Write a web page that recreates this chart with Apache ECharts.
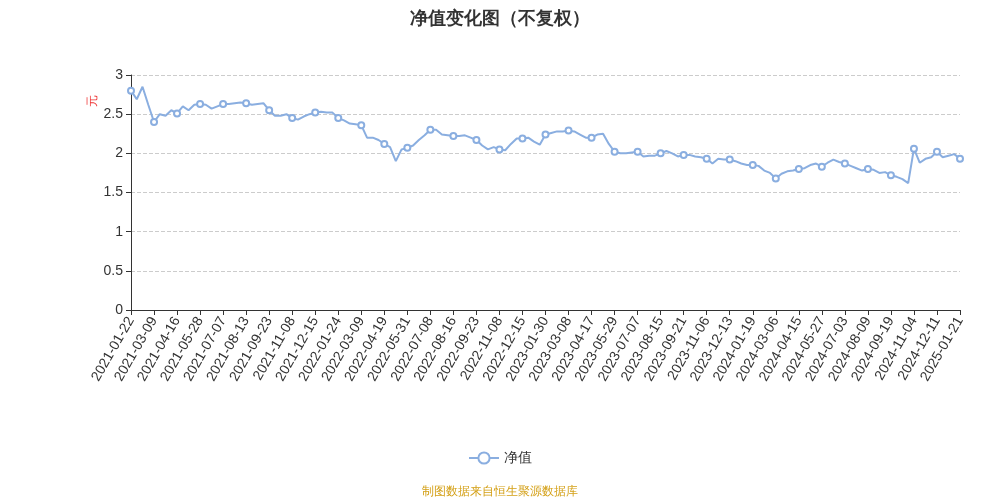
<!DOCTYPE html>
<html><head><meta charset="utf-8">
<script src="https://cdn.jsdelivr.net/npm/echarts@6/dist/echarts.min.js"></script>
<style>html,body{margin:0;padding:0;}#c{width:1000px;height:500px;}</style>
</head><body><div id="c"></div>
<script>
const labelDates = ['2021-01-22','2021-03-09','2021-04-16','2021-05-28','2021-07-07','2021-08-13','2021-09-23','2021-11-08','2021-12-15','2022-01-24','2022-03-09','2022-04-19','2022-05-31','2022-07-08','2022-08-16','2022-09-23','2022-11-08','2022-12-15','2023-01-30','2023-03-08','2023-04-17','2023-05-29','2023-07-07','2023-08-15','2023-09-21','2023-11-06','2023-12-13','2024-01-19','2024-03-06','2024-04-15','2024-05-27','2024-07-03','2024-08-09','2024-09-19','2024-11-04','2024-12-11','2025-01-21'];
const navValues = [
2.80,2.69,2.85,2.62, 2.40,2.50,2.48,2.55, 2.51,2.60,2.55,2.62, 2.63,2.62,2.57,2.60,
2.63,2.63,2.64,2.65, 2.64,2.62,2.63,2.64, 2.55,2.48,2.48,2.50, 2.45,2.43,2.47,2.50,
2.52,2.53,2.52,2.52, 2.45,2.42,2.38,2.37, 2.36,2.20,2.20,2.17, 2.12,2.08,1.90,2.05,
2.07,2.10,2.17,2.23, 2.30,2.30,2.24,2.23, 2.22,2.22,2.23,2.20, 2.17,2.10,2.05,2.08,
2.05,2.04,2.12,2.19, 2.19,2.20,2.15,2.11, 2.24,2.26,2.28,2.28, 2.29,2.28,2.24,2.20,
2.20,2.24,2.25,2.12, 2.02,2.00,2.00,2.01, 2.02,1.96,1.97,1.97, 2.00,2.03,2.00,1.96,
1.98,1.98,1.96,1.95, 1.93,1.87,1.93,1.92, 1.92,1.90,1.87,1.85, 1.85,1.84,1.78,1.75,
1.68,1.74,1.77,1.78, 1.80,1.81,1.85,1.87, 1.83,1.88,1.92,1.89, 1.87,1.84,1.81,1.78,
1.80,1.79,1.75,1.76, 1.72,1.70,1.67,1.62, 2.06,1.88,1.93,1.95, 2.02,1.95,1.97,1.99,
1.93,1.80,1.82,1.83, 1.84];
const perStep = 4;
const cats = [];
for (let i = 0; i < labelDates.length; i++) {
  cats.push(labelDates[i]);
  if (i < labelDates.length - 1) {
    const a = new Date(labelDates[i]).getTime(), b = new Date(labelDates[i+1]).getTime();
    for (let j = 1; j < perStep; j++) {
      cats.push(new Date(a + (b - a) * j / perStep).toISOString().slice(0,10));
    }
  }
}
const chart = echarts.init(document.getElementById('c'));
chart.setOption({
  title: {text: '净值变化图（不复权）', left: 'center', top: 5, textStyle: {fontSize: 18, fontWeight: 'bold', color: '#333'}},
  grid: {left: 131, right: 40, top: 75, bottom: 190},
  legend: {bottom: 30, data: ['净值'], textStyle: {fontSize: 14, color: '#333'}, itemWidth: 30, itemHeight: 14},
  graphic: [
    {type: 'text', left: 'center', bottom: 2, style: {text: '制图数据来自恒生聚源数据库', fill: '#d4a017', fontSize: 12}},
    {type: 'text', x: 87, y: 107, rotation: Math.PI/2, style: {text: '元', fill: '#e33', fontSize: 12}}
  ],
  xAxis: {type: 'category', data: cats, boundaryGap: false,
    axisLine: {lineStyle: {color: '#333'}},
    axisTick: {interval: perStep - 1},
    axisLabel: {interval: perStep - 1, rotate: 60, fontSize: 14, color: '#333'}},
  yAxis: {type: 'value', min: 0, max: 3, interval: 0.5,
    axisLine: {show: true, lineStyle: {color: '#333'}}, axisTick: {show: true},
    axisLabel: {fontSize: 14, color: '#333'},
    splitLine: {lineStyle: {type: 'dashed', color: '#ccc'}}},
  series: [{name: '净值', type: 'line', data: navValues, symbol: 'emptyCircle', symbolSize: 6,
    itemStyle: {color: '#8aaee0'}, lineStyle: {width: 2, color: '#8aaee0'}}]
});
</script></body></html>
